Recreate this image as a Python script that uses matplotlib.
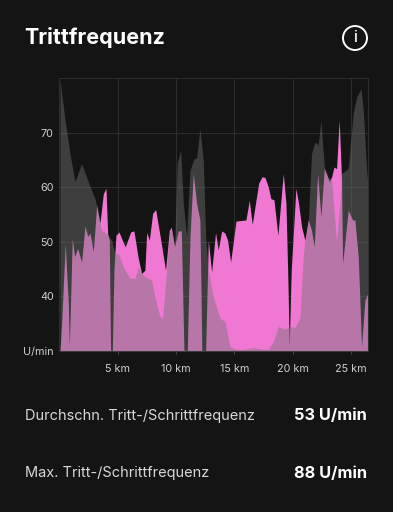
import matplotlib
matplotlib.use("Agg")
import matplotlib.pyplot as plt
from matplotlib.patches import Circle

plt.rcParams['font.family'] = ['Inter', 'DejaVu Sans']

BG = '#141414'
W, H = 393, 512

title = 'Trittfrequenz'
stat_labels = ['Durchschn. Tritt-/Schrittfrequenz', 'Max. Tritt-/Schrittfrequenz']
stat_values = ['53 U/min', '88 U/min']
y_ticks = [40, 50, 60, 70]
y_unit = 'U/min'
x_ticks = [5, 10, 15, 20, 25]

pink_km = [0.06, 0.2, 0.51, 0.77, 0.86, 1.11, 1.31, 1.57, 1.91, 2.2, 2.43, 2.63, 2.91, 3.2, 3.48, 3.77, 4.0,
           4.14, 4.28, 4.39, 4.54, 4.68, 4.85, 5.11, 5.34, 5.65, 6.11, 6.39, 6.76, 7.05, 7.33, 7.48, 7.71,
           7.99, 8.25, 8.62, 9.1, 9.42, 9.59, 9.87, 10.19, 10.45, 10.67, 10.96, 11.19, 11.47, 11.76, 12.04,
           12.21, 12.53, 12.76, 13.04, 13.38, 13.61, 13.9, 14.18, 14.41, 14.67, 15.13, 15.98, 16.27, 16.52,
           17.07, 17.35, 17.61, 17.89, 18.12, 18.38, 18.72, 19.18, 19.41, 19.58, 19.69, 19.86, 20.26, 20.49,
           20.75, 21.03, 21.32, 21.6, 21.83, 22.12, 22.4, 22.69, 22.97, 23.12, 23.32, 23.52, 23.74, 23.97,
           24.17, 24.26, 24.74, 25.11, 25.31, 25.6, 25.88, 26.17, 26.4]
pink_val = [30, 35.1, 49.7, 38.7, 30.8, 50.6, 47.3, 48.8, 46.3, 52.9, 51.0, 51.6, 48.2, 56.7, 53.4, 58.8, 59.8,
            51.5, 50.3, 30.2, 30, 44.8, 51.2, 51.8, 50.6, 49.1, 51.8, 52, 47, 44.2, 44.8, 51.7, 50.3,
            55.2, 55.9, 51.2, 44.8, 52.1, 52.7, 49.1, 52, 52, 30.2, 30, 50.9, 62.5, 57, 54,
            30, 30, 50.3, 44.5, 51.7, 48.5, 52, 51.6, 50.3, 46.3, 53.8, 54, 57.6, 53.2,
            60.7, 61.9, 61.8, 60.1, 57.9, 57.7, 51.2, 62.5, 57, 42.4, 30.8, 44.8, 59.8, 57,
            52.7, 50.3, 54, 52.1, 49.1, 62.5, 54.6, 63.4, 61.9, 61, 61.9, 63.7, 63.4, 72.3,
            61.3, 46, 55.8, 54, 54, 47.3, 30.8, 39.3, 40.5]

gray_km = [0.06, 0.49, 0.91, 1.34, 1.91, 2.48, 3.05, 3.34, 3.62, 4.05, 4.48, 4.77, 5.05, 5.48, 6.05, 6.48, 6.76,
           7.05, 7.33, 7.91, 8.19, 8.62, 8.85, 9.19, 9.42, 9.59, 9.87, 10.1, 10.39, 10.62, 10.9, 11.19, 11.53,
           11.76, 12.04, 12.33, 12.53, 12.76, 13.18, 13.76, 14.18, 14.61, 15.18, 15.75, 16.61, 17.47, 17.89,
           18.32, 18.75, 19.32, 19.75, 20.18, 20.61, 20.89, 21.03, 21.32, 21.6, 21.89, 22.17, 22.4, 22.69,
           23.03, 23.32, 23.74, 24.03, 24.17, 24.74, 25.17, 25.46, 25.83, 26.03, 26.31, 26.4]
gray_val = [79.7, 72.3, 66.2, 61, 64.3, 61, 57.9, 55.2, 52.1, 51.5, 50.3, 47.7, 47.9, 45.4, 43.3, 43.3, 45.4,
            44.2, 43.6, 43, 39.9, 36.3, 36, 44.8, 51.5, 52.7, 49.1, 64.3, 66.8, 57, 50.9, 63.1, 65.2,
            65.4, 70.7, 64.9, 50.9, 44.8, 39.9, 36, 35.4, 30.8, 30.3, 30.3, 30.6, 30.3, 30.3,
            31.7, 34.5, 34, 34.5, 34.3, 36, 47.3, 50.3, 53.7, 66.2, 68.3, 67.7, 72.3, 63.7,
            61.8, 61.3, 50, 57, 62.5, 63.4, 73.5, 76.5, 78, 74.1, 63.1, 61.3]

fig = plt.figure(figsize=(W / 100, H / 100), dpi=100, facecolor=BG)
ax = fig.add_axes([59.3 / W, 1 - 351 / H, 308.3 / W, 273 / H], facecolor=BG)
ax.set_xlim(0, 26.4)
ax.set_ylim(30, 80)

ax.fill_between(pink_km, 30, pink_val, color='#EE78D2', lw=0, zorder=2)
ax.fill_between(gray_km, 30, gray_val, color='#747474', alpha=0.445, lw=0, zorder=3)

ax.set_xticks(x_ticks, [f'{k} km' for k in x_ticks])
ax.set_yticks([30] + y_ticks, [y_unit] + [str(v) for v in y_ticks])
ax.grid(True, color='#2C2C2C', lw=0.8, zorder=1)
ax.set_axisbelow(True)
for side, spine in ax.spines.items():
    spine.set_color('#2C2C2C')
    spine.set_linewidth(0.8)
ax.tick_params(axis='x', length=2, width=0.8, color='#444444', labelcolor='#CFCFCF', labelsize=7.8, pad=7)
ax.tick_params(axis='y', length=0, labelcolor='#CFCFCF', labelsize=7.8, pad=4)

def px(x, y):
    return x / W, 1 - y / H

fig.text(*px(24.2, 38), title, color='white', fontsize=15.5, fontweight='bold', va='center', ha='left')
for label, value, y in zip(stat_labels, stat_values, [416, 473]):
    fig.text(*px(25, y), label, color='#D8D8D8', fontsize=10.5, va='center', ha='left')
    fig.text(*px(367, y), value, color='white', fontsize=11.8, fontweight='bold', va='center', ha='right')

cx, cy = 355, 38
overlay = fig.add_axes([0, 0, 1, 1], facecolor='none')
overlay.set_xlim(0, W)
overlay.set_ylim(H, 0)
overlay.axis('off')
overlay.add_patch(Circle((cx, cy), 12, fill=False, ec='white', lw=1.4))
overlay.text(cx, cy, 'i', color='white', fontsize=11, fontweight='medium', ha='center', va='center')

fig.savefig('out.png', dpi=100, facecolor=BG)
